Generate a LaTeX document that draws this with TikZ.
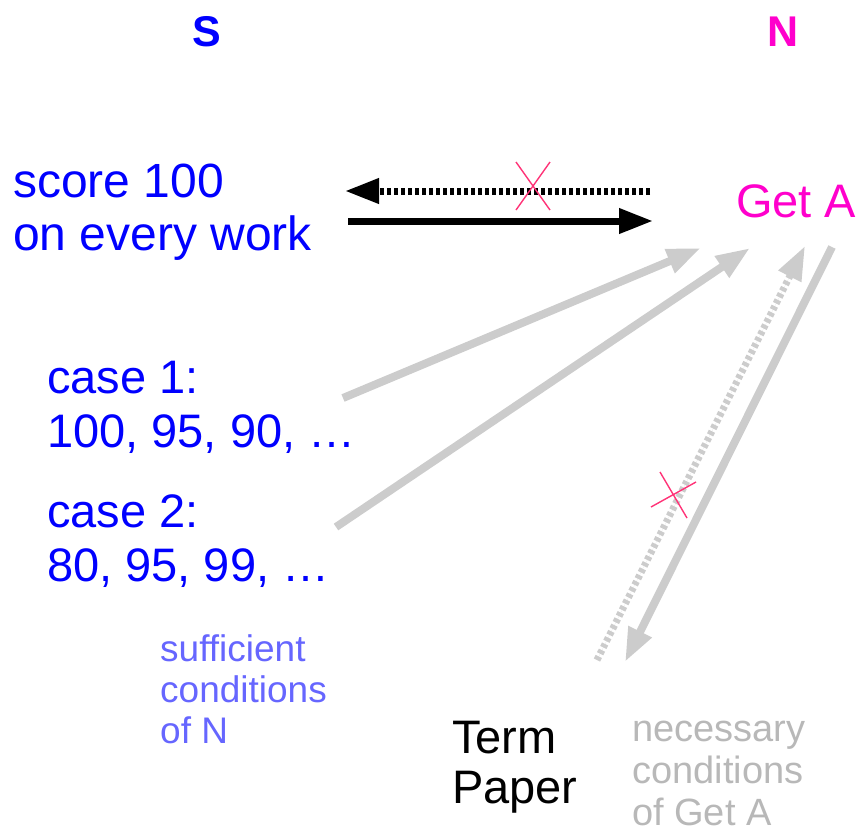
\documentclass[tikz,border=0pt]{standalone}
\usepackage{fontspec}
\setmainfont{Liberation Sans}
\usetikzlibrary{arrows.meta}

\definecolor{sblue}{HTML}{0000FF}
\definecolor{nmag}{HTML}{FF00CC}
\definecolor{softblue}{HTML}{6666FF}
\definecolor{arrowgray}{HTML}{CCCCCC}
\definecolor{notegray}{HTML}{B8B8B8}
\definecolor{crossred}{HTML}{FF3377}

\begin{document}
\begin{tikzpicture}[x=1pt,y=-1pt,
  % multi-line nodes are placed by the baseline of their last line
  txt/.style={inner sep=0pt, anchor=base west, align=left},
  head/.style={inner sep=0pt, anchor=base, font=\fontsize{43}{48}\selectfont\bfseries},
  bigtext/.style={txt, font=\fontsize{48}{53}\selectfont},
  casetext/.style={txt, font=\fontsize{47}{54}\selectfont, text=sblue},
  notetext/.style={txt, font=\fontsize{37}{41}\selectfont},
  bigtip/.style={-{Triangle[length=34pt,width=24pt]}},
  grayarrow/.style={draw=arrowgray, line width=8pt, bigtip, fill=arrowgray},
  dotline/.style={dash pattern=on 4pt off 3pt},
  strike/.style={draw=crossred, line width=1.4pt}
]
\useasboundingbox (0,0) rectangle (861,831);

% column headings
\node[head, text=sblue] (S) at (207,46) {S};
\node[head, text=nmag] (N) at (783,46) {N};

% statements
\node[bigtext, text=sblue] (score) at (13,250) {score 100\\on every work};
\node[txt, font=\fontsize{47}{53}\selectfont, text=nmag] (getA) at (736,217) {Get A};
\node[casetext] (case1) at (47,447) {case 1:\\100, 95, 90, …};
\node[casetext] (case2) at (47,581) {case 2:\\80, 95, 99, …};
\node[notetext, text=softblue] (suff) at (160,743) {sufficient\\conditions\\of N};
\node[txt, font=\fontsize{47}{50}\selectfont] (term) at (452,803) {Term\\Paper};
\node[notetext, font=\fontsize{38}{42}\selectfont, text=notegray] (nec) at (632,825) {necessary\\conditions\\of Get A};

% connector end points
\coordinate (sR) at (348,221);
\coordinate (aL) at (653,221);
\coordinate (aR) at (650,191);
\coordinate (sL) at (345,191);
\coordinate (c1) at (343,398);
\coordinate (a1) at (701,248);
\coordinate (c2) at (336,527);
\coordinate (a2) at (750,248);
\coordinate (tp) at (597,660);
\coordinate (a3) at (805,246);
\coordinate (a4) at (832,247);
\coordinate (tq) at (625,662);

% S implies N, N does not imply S
\draw[line width=7pt, bigtip] (sR) -- (aL);
\draw[line width=7pt, dotline, bigtip] (aR) -- (sL);
\draw[strike] (516,162) -- (550,210) (550,162) -- (516,210);

% sufficient cases
\draw[grayarrow] (c1) -- (a1);
\draw[grayarrow] (c2) -- (a2);

% necessary condition
\draw[grayarrow] (a4) -- (tq);
\draw[grayarrow, line width=7pt, dotline] (tp) -- (a3);
\draw[strike] (660,472) -- (687,518) (651,507) -- (696,482);
\end{tikzpicture}
\end{document}
